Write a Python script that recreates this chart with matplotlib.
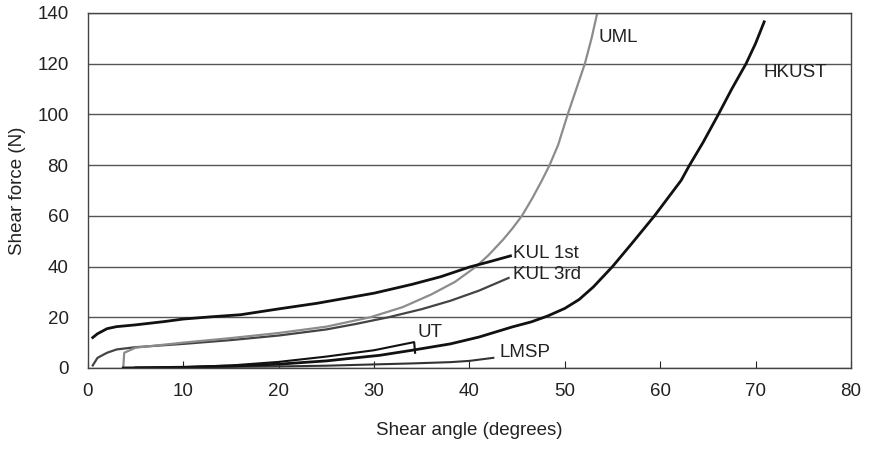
import matplotlib.pyplot as plt

plt.rcParams['font.family'] = ['Liberation Sans', 'DejaVu Sans']

# KUL 1st
kul1_x = [0.5, 1, 2, 3, 5, 8, 10, 13, 16, 20, 24, 27, 30, 34, 37, 40, 42, 44.3]
kul1_y = [12, 13.5, 15.5, 16.3, 17, 18.3, 19.3, 20.2, 21, 23.3, 25.5, 27.5, 29.5, 33, 36, 39.8, 41.8, 44.2]

# KUL 3rd
kul3_x = [0.5, 1, 2, 3, 5, 10, 15, 20, 25, 28, 31.5, 35, 38, 41, 44.1]
kul3_y = [1, 4, 6, 7.3, 8.2, 9.5, 11, 12.8, 15.2, 17.3, 20, 23.2, 26.5, 30.5, 35.5]

# UML
uml_x = [3.7, 3.8, 5, 10, 15, 20, 25, 29.6, 33, 36, 38.5, 40.7, 42, 43.5, 44.5, 45.5, 46.6,
         47.6, 48.4, 49.3, 50.3, 51.2, 52.1, 52.8, 53.4]
uml_y = [0, 6, 8, 10, 11.8, 13.8, 16.3, 20, 24, 29, 34, 40, 44.5, 50.5, 55, 60, 67,
         74, 80, 88, 100, 110, 120, 130, 140]

# HKUST
hk_x = [3.7, 10, 15, 20, 25, 30.6, 34, 38, 41, 44.5, 46.5, 48.2, 50, 51.5, 53, 55, 56, 57, 58.2,
        59.4, 60.8, 62.2, 63, 64.5, 66.1, 67.5, 69, 70, 70.9]
hk_y = [0, 0.3, 0.8, 1.5, 2.8, 5, 7, 9.5, 12.2, 16.2, 18.2, 20.5, 23.5, 27, 32, 40, 44.5, 49, 54.5,
        60, 67, 74, 79.5, 89, 100, 110, 120, 128, 136.5]

# UT
ut_x = [7, 10, 15, 20, 25, 30, 34.2, 34.3]
ut_y = [0, 0.3, 1, 2.4, 4.5, 7, 10.2, 6]

# LMSP
lmsp_x = [5, 10, 20, 25, 30, 34, 38, 40, 42.5]
lmsp_y = [0.2, 0.3, 0.6, 0.9, 1.4, 1.8, 2.3, 2.8, 4]

labels = ["UML", "HKUST", "KUL 1st", "KUL 3rd", "UT", "LMSP"]
label_pos = [(53.5, 130.5), (70.8, 116.7), (44.6, 45.3), (44.6, 36.7), (34.5, 13.8), (43.2, 6.3)]

fig = plt.figure(figsize=(8.71, 4.69), dpi=100)
ax = fig.add_axes([0.101, 0.2154, 0.876, 0.757])

ax.plot(lmsp_x, lmsp_y, color="#333333", lw=1.5)
ax.plot(ut_x, ut_y, color="#111111", lw=1.5)
ax.plot(kul3_x, kul3_y, color="#444444", lw=1.6)
ax.plot(uml_x, uml_y, color="#8c8c8c", lw=1.6)
ax.plot(kul1_x, kul1_y, color="#111111", lw=2)
ax.plot(hk_x, hk_y, color="#111111", lw=2)

for t, (lx, ly) in zip(labels, label_pos):
    ax.text(lx, ly, t, fontsize=13.5, va="center", ha="left", color="#222222")

ax.set_xlim(0, 80)
ax.set_ylim(0, 140)
ax.set_xticks(range(0, 81, 10))
ax.set_yticks(range(0, 141, 20))
ax.yaxis.grid(True, color="#555555", lw=1)
ax.set_axisbelow(True)
ax.tick_params(axis="x", direction="in", length=5, pad=11, labelsize=13.5, colors="#222222")
ax.tick_params(axis="y", length=0, pad=14, labelsize=13.5, colors="#222222")
for s in ax.spines.values():
    s.set_color("#444444")
    s.set_linewidth(1)

ax.set_xlabel("Shear angle (degrees)", fontsize=13.5, labelpad=16, color="#222222")
ax.set_ylabel("Shear force (N)", fontsize=13.5, labelpad=8, color="#222222")

fig.savefig("out.png", dpi=100)
